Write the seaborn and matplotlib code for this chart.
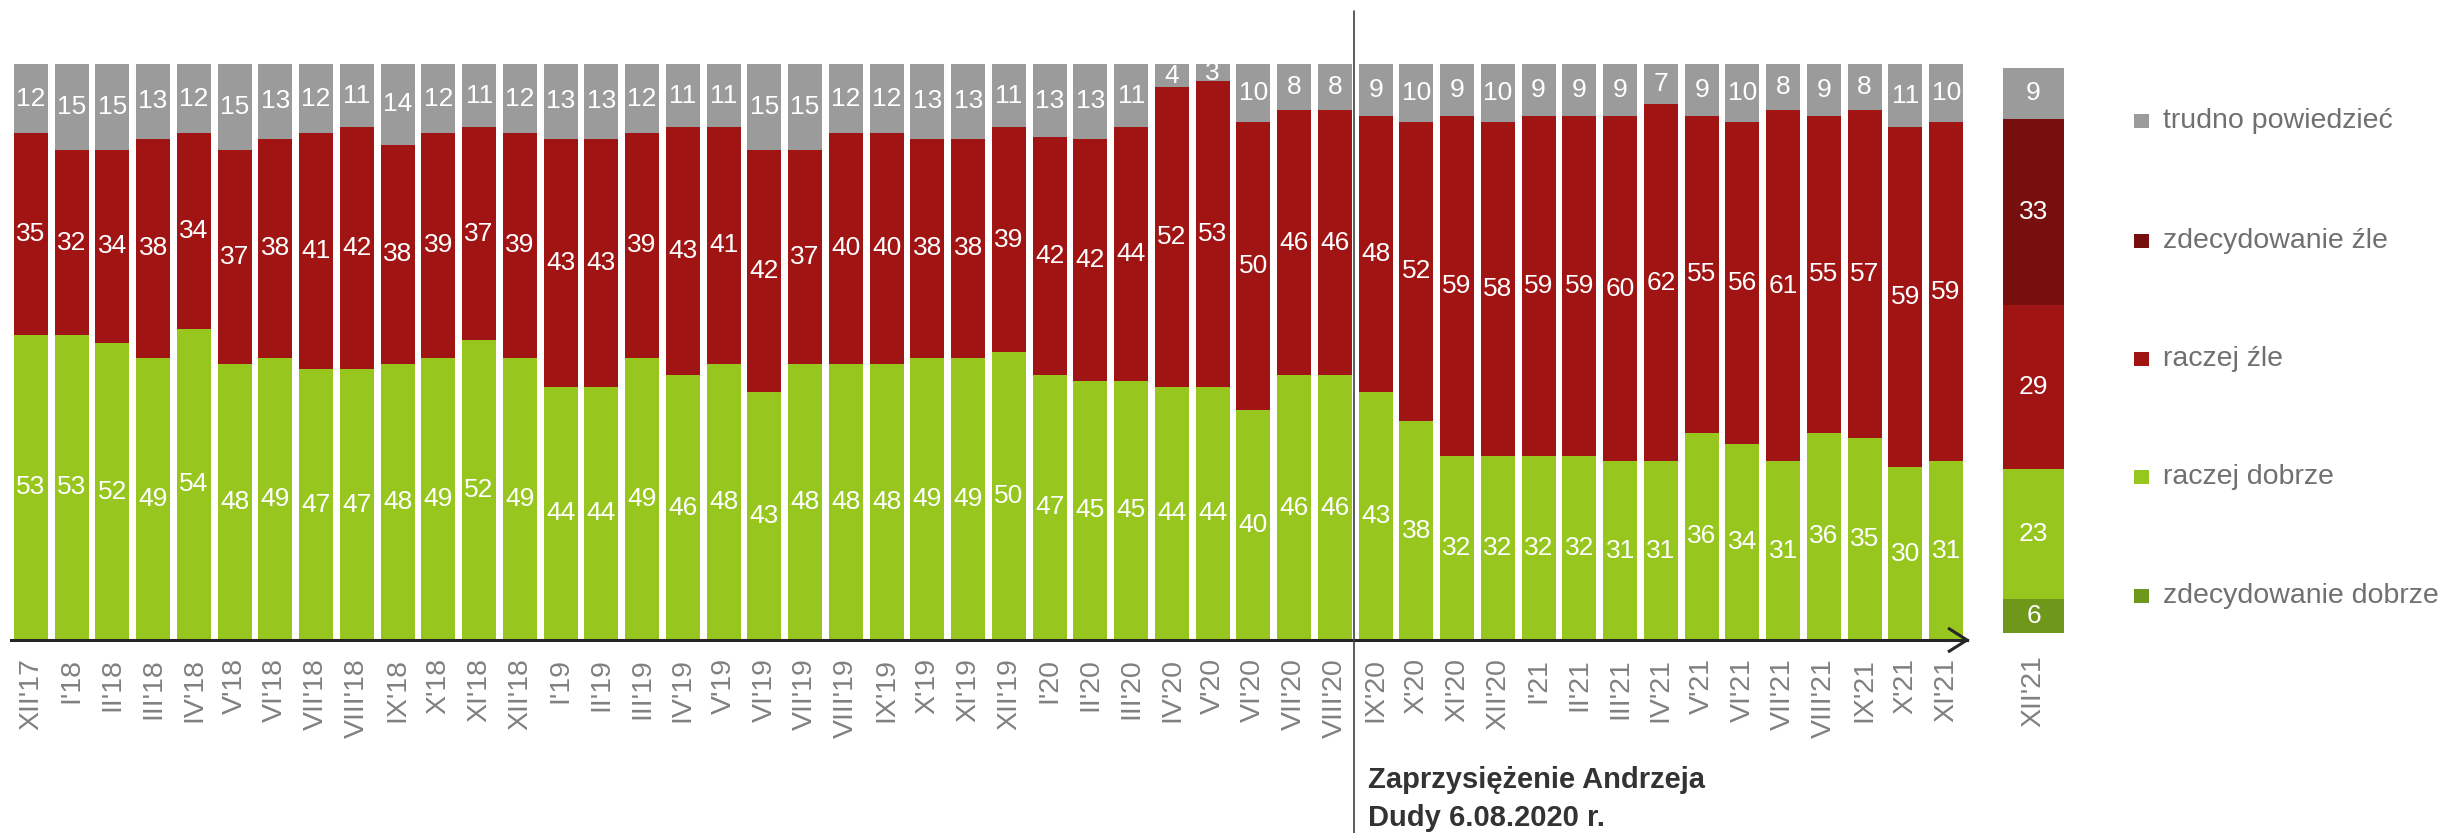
import numpy as np
import pandas as pd
import matplotlib
matplotlib.use("Agg")
import matplotlib.pyplot as plt
import seaborn as sns
from matplotlib.lines import Line2D
from matplotlib.patches import Rectangle
from matplotlib import font_manager

# ---------------- data ----------------
months = ["XII'17", "I'18", "II'18", "III'18", "IV'18", "V'18", "VI'18", "VII'18",
          "VIII'18", "IX'18", "X'18", "XI'18", "XII'18", "I'19", "II'19", "III'19",
          "IV'19", "V'19", "VI'19", "VII'19", "VIII'19", "IX'19", "X'19", "XI'19",
          "XII'19", "I'20", "II'20", "III'20", "IV'20", "V'20", "VI'20", "VII'20",
          "VIII'20", "IX'20", "X'20", "XI'20", "XII'20", "I'21", "II'21", "III'21",
          "IV'21", "V'21", "VI'21", "VII'21", "VIII'21", "IX'21", "X'21", "XI'21"]
good = [53, 53, 52, 49, 54, 48, 49, 47, 47, 48, 49, 52, 49, 44, 44, 49, 46, 48, 43, 48,
        48, 48, 49, 49, 50, 47, 45, 45, 44, 44, 40, 46, 46,
        43, 38, 32, 32, 32, 32, 31, 31, 36, 34, 31, 36, 35, 30, 31]
bad = [35, 32, 34, 38, 34, 37, 38, 41, 42, 38, 39, 37, 39, 43, 43, 39, 43, 41, 42, 37,
       40, 40, 38, 38, 39, 42, 42, 44, 52, 53, 50, 46, 46,
       48, 52, 59, 58, 59, 59, 60, 62, 55, 56, 61, 55, 57, 59, 59]
dunno = [12, 15, 15, 13, 12, 15, 13, 12, 11, 14, 12, 11, 12, 13, 13, 12, 11, 11, 15, 15,
         12, 12, 13, 13, 11, 13, 13, 11, 4, 3, 10, 8, 8,
         9, 10, 9, 10, 9, 9, 9, 7, 9, 10, 8, 9, 8, 11, 10]

last_month = ["XII'21"]
last_labels = ["zdecydowanie dobrze", "raczej dobrze", "raczej źle",
               "zdecydowanie źle", "trudno powiedzieć"]
last_values = [6, 23, 29, 33, 9]

legend_labels = ["trudno powiedzieć", "zdecydowanie źle", "raczej źle",
                 "raczej dobrze", "zdecydowanie dobrze"]

note_lines = ["Zaprzysiężenie Andrzeja", "Dudy 6.08.2020 r."]

# ---------------- style ----------------
GRAY = "#9b9b9b"
RED = "#a01414"
DRED = "#780f0f"
GREEN = "#97c71f"
DGREEN = "#6f971a"
legend_colors = [GRAY, DRED, RED, GREEN, DGREEN]

sns.set_style("white")
plt.rcParams["font.family"] = ["Liberation Sans", "DejaVu Sans"]

names = {f.name for f in font_manager.fontManager.ttflist}
has_narrow = "Liberation Sans Narrow" in names

W, H = 2453, 833
def fx(px):
    return px / W
def fy(py):
    return 1 - py / H

fig = plt.figure(figsize=(W / 100, H / 100), dpi=100)
fig.patch.set_facecolor("white")

# ---------------- main stacked bars ----------------
df = pd.DataFrame({"month": months, "good": good, "bad": bad, "dunno": dunno})
tot = df[["good", "bad", "dunno"]].sum(axis=1)
df["c1"] = df["good"] / tot * 100
df["c2"] = (df["good"] + df["bad"]) / tot * 100
df["c3"] = (df["good"] + df["bad"] + df["dunno"]) / tot * 100

ax = fig.add_axes([fx(10.5), 193 / H, 1956 / W, 576 / H])
for col, color in [("c3", GRAY), ("c2", RED), ("c1", GREEN)]:
    sns.barplot(data=df, x="month", y=col, order=months, color=color, saturation=1,
                width=0.83, errorbar=None, ax=ax, linewidth=0)
ax.set_xlim(-0.5, len(months) - 0.5)
ax.set_ylim(0, 100)
ax.set_xlabel("")
ax.set_ylabel("")
ax.set_yticks([])
ax.set_xticks(range(len(months)))
ax.set_xticklabels(months, rotation=90, fontsize=20.5, color="#808080")
ax.tick_params(axis="x", length=0, pad=13)
for s in ["top", "left", "right"]:
    ax.spines[s].set_visible(False)
ax.spines["bottom"].set_color("#262626")
ax.spines["bottom"].set_linewidth(2.2)
ax.set_facecolor("none")

lab_kw = dict(ha="center", va="center", color="white", fontsize=19)
for i in range(len(months)):
    c1, c2, c3 = df.loc[i, "c1"], df.loc[i, "c2"], df.loc[i, "c3"]
    ax.text(i, c1 / 2, str(good[i]), **lab_kw)
    ax.text(i, (c1 + c2) / 2, str(bad[i]), **lab_kw)
    ax.text(i, (c2 + c3) / 2, str(dunno[i]), **lab_kw)

# ---------------- XII'21 detailed bar ----------------
ax2 = fig.add_axes([fx(2003), 200 / H, 61 / W, 565 / H])
cum = np.cumsum(last_values)
last_colors = [DGREEN, GREEN, RED, DRED, GRAY]
for k in range(len(last_values) - 1, -1, -1):
    d2 = pd.DataFrame({"month": last_month, "v": [cum[k]]})
    sns.barplot(data=d2, x="month", y="v", color=last_colors[k], saturation=1,
                width=1.0, errorbar=None, ax=ax2, linewidth=0)
ax2.set_xlim(-0.5, 0.5)
ax2.set_ylim(0, 100)
ax2.set_xlabel("")
ax2.set_ylabel("")
ax2.set_yticks([])
ax2.set_xticks([0])
ax2.set_xticklabels(last_month, rotation=90, fontsize=20.5, color="#808080")
ax2.tick_params(axis="x", length=0, pad=16)
for s in ax2.spines.values():
    s.set_visible(False)
ax2.set_facecolor("none")
prev = 0
for k, v in enumerate(last_values):
    ax2.text(0, prev + v / 2, str(v), **lab_kw)
    prev += v

# ---------------- axis arrow ----------------
fig.add_artist(Line2D([fx(1948), fx(1967), fx(1948)], [fy(628), fy(640), fy(652)],
                      transform=fig.transFigure, color="#262626", lw=2.2,
                      solid_joinstyle="miter", solid_capstyle="butt"))

# ---------------- vertical marker line ----------------
fig.add_artist(Line2D([fx(1354), fx(1354)], [fy(11), fy(833)],
                      transform=fig.transFigure, color="#404040", lw=1.2))

if has_narrow:
    note_family = ["Liberation Sans Narrow", "Liberation Sans"]
    note_size = 24.5
else:
    note_family = ["Liberation Sans", "DejaVu Sans"]
    note_size = 21
fig.text(fx(1368), fy(788), note_lines[0], fontsize=note_size, fontweight="bold",
         family=note_family, color="#333333", ha="left", va="baseline")
fig.text(fx(1368), fy(826), note_lines[1], fontsize=note_size, fontweight="bold",
         family=note_family, color="#333333", ha="left", va="baseline")

# ---------------- legend ----------------
rows = [121, 241, 359, 477, 596]
if has_narrow:
    leg_family = ["Liberation Sans Narrow", "Liberation Sans"]
    leg_size = 24.5
else:
    leg_family = ["Liberation Sans", "DejaVu Sans"]
    leg_size = 20.5
for lab, col, r in zip(legend_labels, legend_colors, rows):
    fig.add_artist(Rectangle((fx(2134), fy(r + 7)), 15 / W, 14 / H,
                             transform=fig.transFigure, facecolor=col, edgecolor="none"))
    fig.text(fx(2163), fy(r), lab, fontsize=leg_size, family=leg_family,
             color="#707070", ha="left", va="center")

fig.savefig("out.png", dpi=100)
